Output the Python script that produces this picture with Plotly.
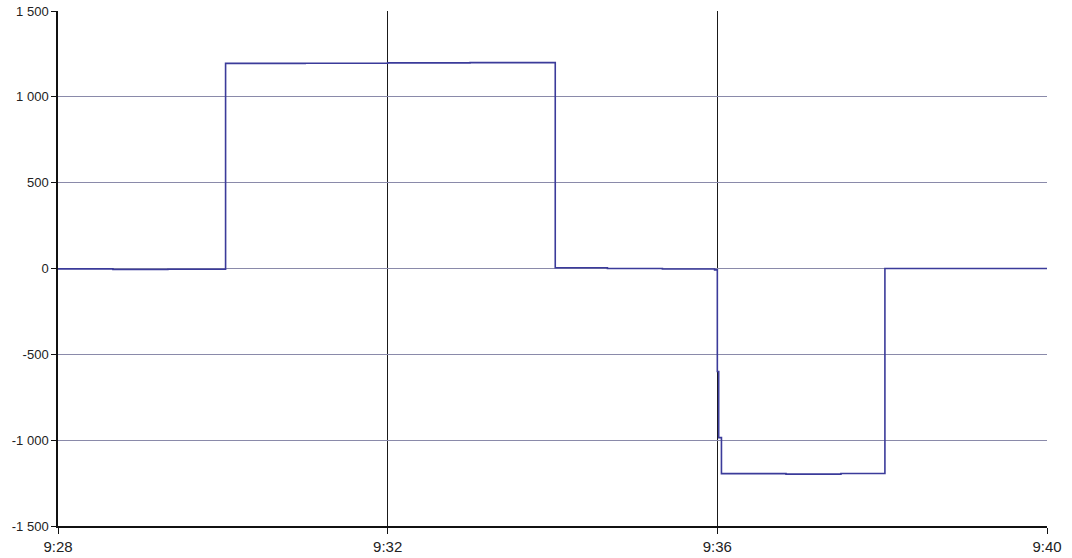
import plotly.graph_objects as go

# Time stamps (hh:mm:ss) and measured values (held until next point)
times = ["09:28:00", "09:28:40", "09:29:20", "09:30:02", "09:31:00", "09:32:00",
         "09:33:00", "09:34:02", "09:34:40", "09:35:20", "09:35:58",
         "09:36:00", "09:36:01", "09:36:03", "09:36:50", "09:37:30", "09:38:02",
         "09:39:00", "09:40:00"]
values = [-2, -6, -4, 1195, 1196, 1198, 1199, 4, 0, -3, -8,
          -600, -985, -1195, -1198, -1194, 0, 0, 0]

y_ticks = [-1500, -1000, -500, 0, 500, 1000, 1500]
y_labels = ["-1 500", "-1 000", "-500", "0", "500", "1 000", "1 500"]
x_ticks = ["09:28", "09:32", "09:36", "09:40"]
x_labels = ["9:28", "9:32", "9:36", "9:40"]

day = "2024-01-01 "
xs = [day + t for t in times]

fig = go.Figure()
fig.add_trace(go.Scatter(x=xs, y=values, mode="lines",
                         line=dict(color="#3b3b9a", width=1.6, shape="hv"),
                         showlegend=False))

fig.update_xaxes(
    type="date",
    range=[day + "09:28:00", day + "09:40:00"],
    tickvals=[day + t for t in x_ticks], ticktext=x_labels,
    showgrid=True, gridcolor="#1a1a1a", gridwidth=1.3,
    showline=True, linecolor="#111111", linewidth=1.5,
    ticks="outside", ticklen=6, tickcolor="#111111", tickwidth=1.3,
    tickfont=dict(family="Liberation Sans, Arial", size=15, color="#222222"),
    zeroline=False, mirror=False, automargin=False,
)
fig.update_yaxes(
    range=[-1500, 1500],
    tickvals=y_ticks, ticktext=y_labels,
    showgrid=True, gridcolor="#8a8aaa", gridwidth=1.2,
    showline=True, linecolor="#111111", linewidth=1.5,
    ticks="outside", ticklen=5, tickcolor="#111111", tickwidth=1.2,
    tickfont=dict(family="Liberation Sans, Arial", size=13, color="#222222"),
    zeroline=False, automargin=False,
)

fig.update_layout(
    width=1072, height=558,
    margin=dict(l=58, r=25, t=11, b=32),
    paper_bgcolor="white", plot_bgcolor="white",
)

fig.write_html("out.html")
